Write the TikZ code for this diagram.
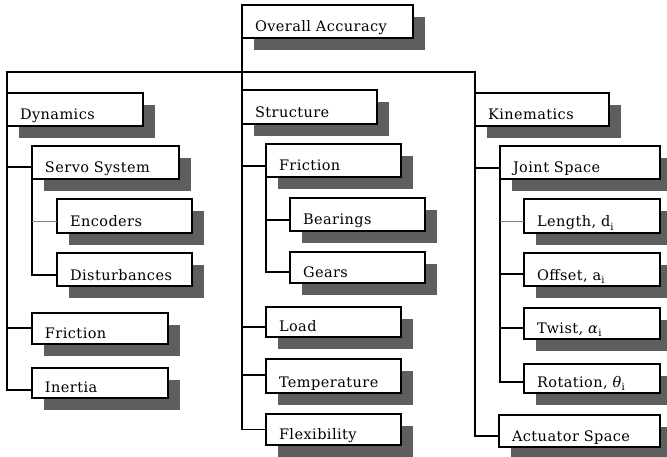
\documentclass[tikz,border=0pt]{standalone}
\usepackage{fontspec}
\setmainfont{DejaVu Serif}[LetterSpace=3]
\usetikzlibrary{shadows}
\definecolor{shadowgray}{HTML}{5E5E5E}
\tikzset{
  bx/.style={draw, line width=1.5pt, fill=white, inner xsep=13pt, inner ysep=0pt,
    text depth=6pt, align=left, outer sep=0pt, font=\fontsize{14.5}{16}\selectfont,
    drop shadow={shadow xshift=12pt, shadow yshift=-12pt, fill=shadowgray, opacity=1}},
  ln/.style={line width=1.5pt, black},
  thinln/.style={line width=0.8pt, gray}
}
\newcommand\sbi{\raisebox{-3.5pt}{\fontsize{10}{10}\selectfont i}}
\newcommand\bx[6]{%
  \pgfmathsetmacro\bxw{#4-#2-26}%
  \pgfmathsetmacro\bxh{#5-#3-6}%
  \node[bx, text width=\bxw pt, text height=\bxh pt, anchor=north west] (#1) at (#2,#3) {#6};}
\begin{document}
\begin{tikzpicture}[x=1pt, y=-1pt]
\useasboundingbox (0,0) rectangle (667,457);
% boxes
\bx{OA}{242}{5}{413}{38}{Overall Accuracy}
\bx{D}{7}{93}{143}{126}{Dynamics}
\bx{S}{242}{90}{377}{124}{Structure}
\bx{K}{475}{93}{609}{126}{Kinematics}
\bx{servo}{32}{146}{179}{179}{Servo System}
\bx{enc}{57}{199}{192}{233}{Encoders}
\bx{dist}{57}{253}{192}{286}{Disturbances}
\bx{fricD}{32}{313}{168}{344}{Friction}
\bx{inertia}{32}{368}{168}{398}{Inertia}
\bx{fricS}{266}{144}{401}{177}{Friction}
\bx{bear}{290}{198}{425}{231}{Bearings}
\bx{gears}{290}{252}{425}{283}{Gears}
\bx{load}{266}{307}{401}{337}{Load}
\bx{temp}{266}{359}{401}{393}{Temperature}
\bx{flex}{266}{414}{401}{445}{Flexibility}
\bx{joint}{500}{146}{660}{179}{Joint Space}
\bx{len}{524}{199}{660}{233}{Length, d\sbi}
\bx{off}{524}{253}{660}{286}{Offset, a\sbi}
\bx{twist}{524}{308}{660}{339}{Twist, \textit{α}\sbi}
\bx{rot}{524}{364}{660}{393}{Rotation, \textit{θ}\sbi}
\bx{act}{499}{415}{660}{447}{Actuator Space}
% connector points
\coordinate (cservo) at ([yshift=-4.5pt]servo.west);
\coordinate (cenc) at ([yshift=-5pt]enc.west);
\coordinate (cdist) at ([yshift=-5.5pt]dist.west);
\coordinate (cfricD) at ([yshift=0.5pt]fricD.west);
\coordinate (cinertia) at ([yshift=-7pt]inertia.west);
\coordinate (cfricS) at ([yshift=-5.5pt]fricS.west);
\coordinate (cbear) at ([yshift=-5.5pt]bear.west);
\coordinate (cgears) at ([yshift=-4.5pt]gears.west);
\coordinate (cload) at ([yshift=-5pt]load.west);
\coordinate (ctemp) at ([yshift=1pt]temp.west);
\coordinate (cflex) at (flex.west);
\coordinate (cjoint) at ([yshift=-5.5pt]joint.west);
\coordinate (clen) at ([yshift=-5pt]len.west);
\coordinate (coff) at ([yshift=-4.5pt]off.west);
\coordinate (ctwist) at ([yshift=-4.5pt]twist.west);
\coordinate (crot) at ([yshift=-3.5pt]rot.west);
\coordinate (cact) at ([yshift=-5pt]act.west);
\coordinate (hub) at (242,72);
% connectors
\draw[ln] (D.north west) |- (hub) -| (K.north west);
\draw[ln] (OA.south west) -- (S.north west);
\draw[ln] (D.south west) |- (cinertia);
\draw[ln] (cservo -| D.west) -- (cservo);
\draw[ln] (cfricD -| D.west) -- (cfricD);
\draw[ln] (servo.south west) |- (cdist);
\draw[thinln] (cenc -| servo.west) -- (cenc);
\draw[ln] (S.south west) |- (cflex);
\draw[ln] (cfricS -| S.west) -- (cfricS);
\draw[ln] (cload -| S.west) -- (cload);
\draw[ln] (ctemp -| S.west) -- (ctemp);
\draw[ln] (fricS.south west) |- (cgears);
\draw[ln] (cbear -| fricS.west) -- (cbear);
\draw[ln] (K.south west) |- (cact);
\draw[ln] (cjoint -| K.west) -- (cjoint);
\draw[ln] (joint.south west) |- (crot);
\draw[thinln] (clen -| joint.west) -- (clen);
\draw[ln] (coff -| joint.west) -- (coff);
\draw[ln] (ctwist -| joint.west) -- (ctwist);
\end{tikzpicture}
\end{document}
